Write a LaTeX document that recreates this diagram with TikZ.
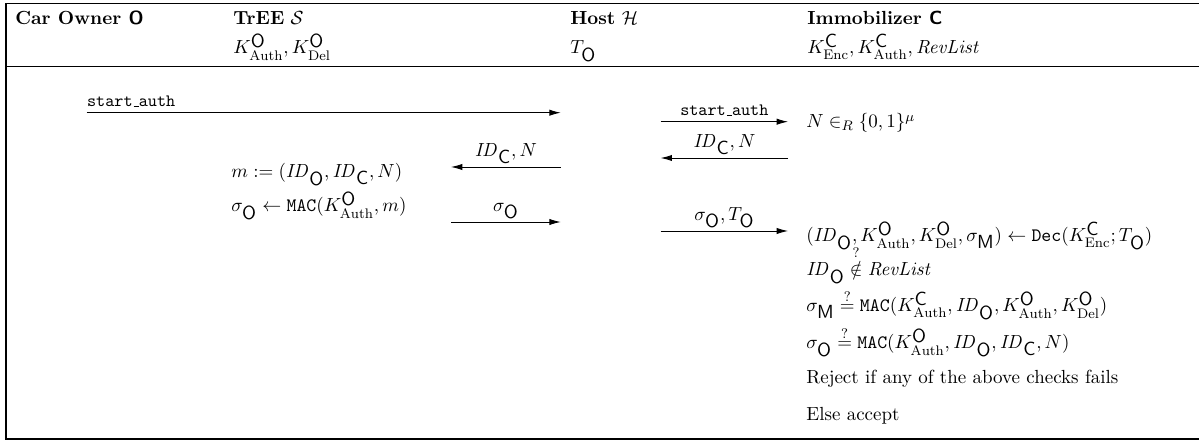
\documentclass[tikz,border=0pt]{standalone}
\usepackage{amssymb, amsmath}
\usepackage{tikz}
\usetikzlibrary{arrows.meta}
\newcommand{\Own}{\mbox{\textsf{O}}}
\newcommand{\Imm}{\mbox{\textsf{C}}}
\newcommand{\KOA}{K^{\Own}_{\mathrm{Auth}}}
\newcommand{\KOD}{K^{\Own}_{\mathrm{Del}}}
\newcommand{\KCE}{K^{\Imm}_{\mathrm{Enc}}}
\newcommand{\KCA}{K^{\Imm}_{\mathrm{Auth}}}
\newcommand{\IDO}{\mathit{ID}_{\Own}}
\newcommand{\IDC}{\mathit{ID}_{\Imm}}
\newcommand{\sigM}{\sigma_{\mbox{\textsf{M}}}}
\newcommand{\usc}{\kern.06em\vbox{\hrule width.3em}}
\newcommand{\startauth}{{\fontsize{10}{12}\selectfont\texttt{start\usc auth}}}

\begin{document}
\begin{tikzpicture}[x=0.577pt, y=-0.577pt,
    font=\fontsize{10.95}{13.6}\selectfont,
    msg/.style={-{Latex[length=6.5pt, width=3.6pt]}, line width=0.5pt},
    txt/.style={anchor=base west, inner sep=0pt}]
  \useasboundingbox (0,0) rectangle (1199,443);

  % frame and header rule
  \draw[line width=1.1pt] (1215,3.5) -- (6,3.5) -- (6,439) -- (1215,439);
  \draw[line width=0.4pt] (6,66.7) -- (1215,66.7);

  % parties
  \node[txt] (own)  at (15,25)  {\textbf{Car Owner \textsf{O}}};
  \node[txt] (tree) at (233,25) {\textbf{TrEE} $\mathcal{S}$};
  \node[txt] (host) at (570,25) {\textbf{Host} $\mathcal{H}$};
  \node[txt] (imm)  at (807,25) {\textbf{Immobilizer \textsf{C}}};
  \node[txt] (kown) at (233,54) {$\KOA, \KOD$};
  \node[txt] (thost) at (570,54) {$T_{\Own}$};
  \node[txt] (kimm) at (807,54) {$\KCE, \KCA, \mathit{RevList}$};

  % message end points
  \coordinate (a1s) at (86.7,112.7);  \coordinate (a1e) at (560.7,112.7);
  \coordinate (a2s) at (660.7,121.7); \coordinate (a2e) at (788,121.7);
  \coordinate (a3s) at (788,158);     \coordinate (a3e) at (660.7,158);
  \coordinate (a4s) at (560.7,167);   \coordinate (a4e) at (451,167);
  \coordinate (a5s) at (451,222);     \coordinate (a5e) at (560.7,222);
  \coordinate (a6s) at (660.7,231);   \coordinate (a6e) at (788,231);

  % messages
  \draw[msg] (a1s) node[above right, inner xsep=0pt] {\startauth} -- (a1e);
  \draw[msg] (a2s) -- node[above] {\startauth} (a2e);
  \draw[msg] (a3s) -- node[above, inner sep=1.5pt] {$\IDC, N$} (a3e);
  \draw[msg] (a4s) -- node[above, inner sep=1.5pt] {$\IDC, N$} (a4e);
  \draw[msg] (a5s) -- node[above, inner sep=1.5pt] {$\sigma_{\Own}$} (a5e);
  \draw[msg] (a6s) -- node[above, inner sep=1.5pt] {$\sigma_{\Own}, T_{\Own}$} (a6e);

  % TrEE computations
  \node[txt] (mdef) at (231,178) {$m := (\IDO, \IDC, N)$};
  \node[txt] (mac)  at (231,212) {$\sigma_{\Own} \leftarrow \mathtt{MAC}(\KOA, m)$};

  % immobilizer computations
  \node[txt] (nonce) at (806,128) {$N \in_R \{0,1\}^{\mu}$};
  \node[txt] (dec)   at (806,242) {$(\IDO, \KOA, \KOD, \sigM) \leftarrow \mathtt{Dec}(\KCE; T_{\Own})$};
  \node[txt] (rev)   at (806,276) {$\IDO \stackrel{?}{\notin} \mathit{RevList}$};
  \node[txt] (chkm)  at (806,312) {$\sigM \stackrel{?}{=} \mathtt{MAC}(\KCA, \IDO, \KOA, \KOD)$};
  \node[txt] (chko)  at (806,349) {$\sigma_{\Own} \stackrel{?}{=} \mathtt{MAC}(\KOA, \IDO, \IDC, N)$};
  \node[txt] (rej)   at (806,384) {Reject if any of the above checks fails};
  \node[txt] (acc)   at (806,420) {Else accept};
\end{tikzpicture}
\end{document}
